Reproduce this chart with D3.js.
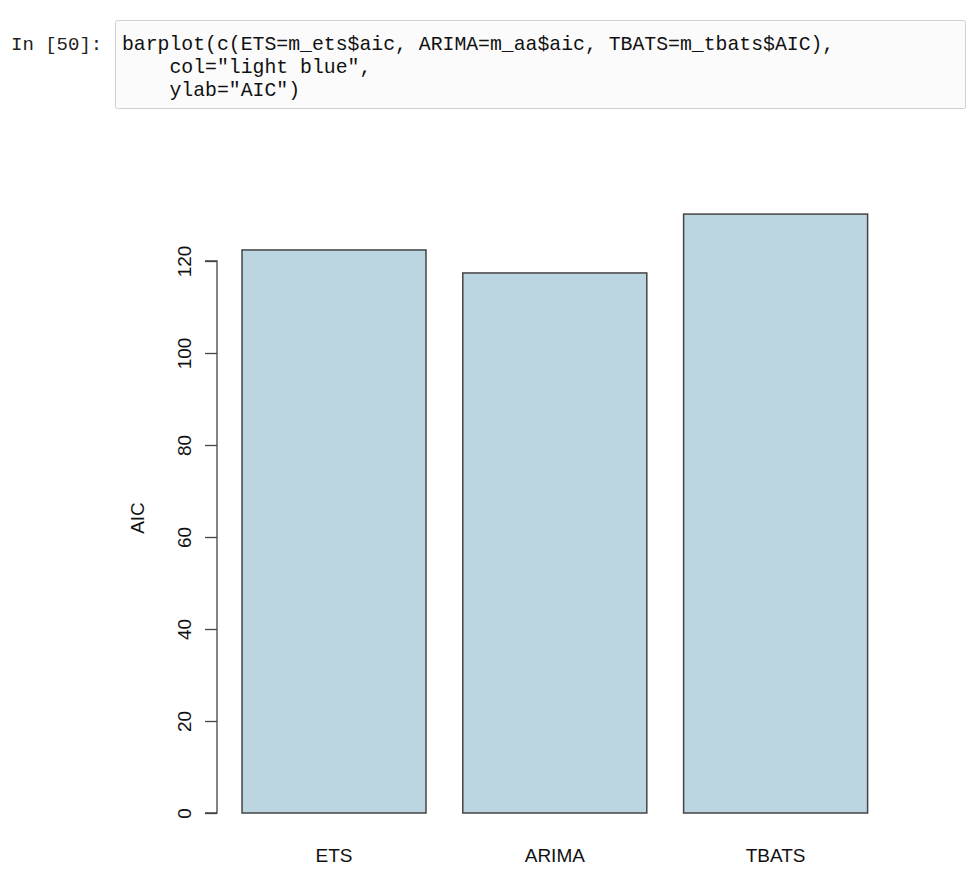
<!DOCTYPE html>
<html><head><meta charset="utf-8">
<script src="https://cdn.jsdelivr.net/npm/d3@7"></script>
<style>body{margin:0;background:#fff;}</style>
</head><body>
<script>
const categories = ["ETS", "ARIMA", "TBATS"];
const values = [122.4, 117.4, 130.2];
const yTicks = [0, 20, 40, 60, 80, 100, 120];
const codeLines = [
  'barplot(c(ETS=m_ets$aic, ARIMA=m_aa$aic, TBATS=m_tbats$AIC),',
  '    col="light blue",',
  '    ylab="AIC")'
];
const prompt = "In [50]:";
const yLabel = "AIC";

const W = 974, H = 874;
const svg = d3.select("body").append("svg").attr("width", W).attr("height", H);

// code cell
svg.append("rect").attr("x", 115.5).attr("y", 20.5).attr("width", 850).attr("height", 88)
  .attr("fill", "#fbfbfb").attr("stroke", "#d0d0d0").attr("rx", 2);
svg.append("text").attr("x", 11).attr("y", 50).text(prompt)
  .attr("font-family", "Liberation Mono, DejaVu Sans Mono, monospace").attr("font-size", 19).attr("fill", "#222");
codeLines.forEach((l, i) => {
  svg.append("text").attr("x", 122).attr("y", 50 + i * 23).text(l)
    .attr("xml:space", "preserve").style("white-space", "pre")
    .attr("font-family", "Liberation Mono, DejaVu Sans Mono, monospace").attr("font-size", 19.8).attr("fill", "#111");
});

// scales (R barplot: width 1, space 0.2)
const space = 0.2, bw = 1;
const x = d3.scaleLinear().domain([0, 1]).range([205.2, 389.2]);
const y = d3.scaleLinear().domain([0, 120]).range([813, 261]);

const g = svg.append("g");
g.selectAll("rect.bar").data(values).enter().append("rect").attr("class", "bar")
  .attr("x", (d, i) => x(space + i * (bw + space)))
  .attr("width", x(bw) - x(0))
  .attr("y", d => y(d))
  .attr("height", d => y(0) - y(d))
  .attr("fill", "#bbd6e1").attr("stroke", "#444").attr("stroke-width", 1.5);

// x labels
g.selectAll("text.xl").data(categories).enter().append("text").attr("class", "xl")
  .attr("x", (d, i) => x(space + i * (bw + space) + bw / 2))
  .attr("y", 862).attr("text-anchor", "middle")
  .attr("font-family", "Liberation Sans, Arial, sans-serif").attr("font-size", 19).attr("fill", "#111")
  .text(d => d);

// y axis
const axisX = 217;
const yAxis = d3.axisLeft(y).tickValues(yTicks).tickSize(12).tickPadding(14);
const ag = svg.append("g").attr("transform", `translate(${axisX},0)`).call(yAxis);
ag.select(".domain").attr("stroke", "#444").attr("stroke-width", 1.3).attr("d", `M-12,${y(120)}H0V${y(0)}H-12`);
ag.selectAll(".tick line").attr("stroke", "#444").attr("stroke-width", 1.3);
ag.selectAll(".tick text")
  .attr("font-family", "Liberation Sans, Arial, sans-serif").attr("font-size", 19).attr("fill", "#111")
  .attr("x", null).attr("y", null).attr("dy", 0).attr("text-anchor", "middle")
  .attr("transform", "translate(-26,0) rotate(-90)");

svg.append("text").attr("transform", `translate(144,518) rotate(-90)`)
  .attr("text-anchor", "middle")
  .attr("font-family", "Liberation Sans, Arial, sans-serif").attr("font-size", 19).attr("fill", "#111")
  .text(yLabel);
</script>
</body></html>
